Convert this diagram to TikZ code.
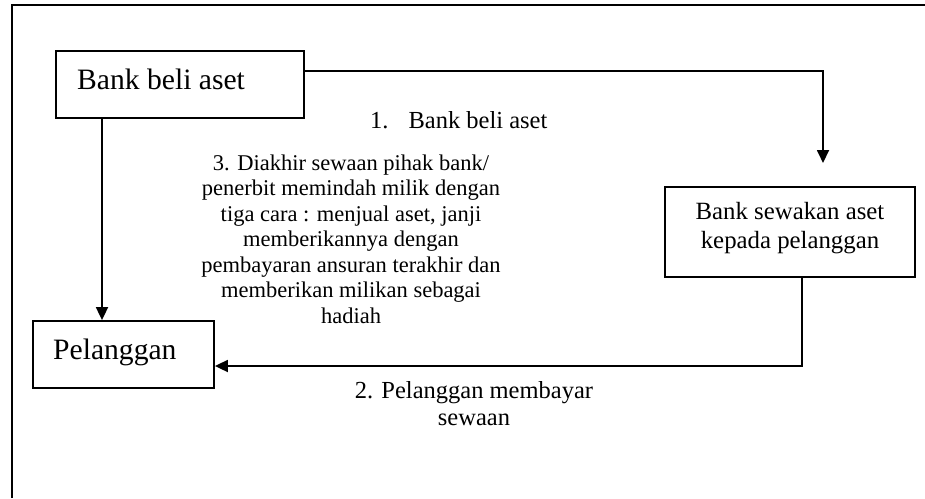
\documentclass[tikz,border=0pt]{standalone}
\usepackage{fontspec}
\setmainfont{Liberation Serif}
\usetikzlibrary{arrows.meta}
\begin{document}
\begin{tikzpicture}[x=1pt,y=-1pt,
  boxnode/.style={draw,line width=1.8pt,inner sep=0pt},
  bigtext/.style={inner sep=0pt,font=\fontsize{29.6}{35}\selectfont},
  midtext/.style={inner sep=0pt,align=center,font=\fontsize{24.8}{29}\selectfont},
  labeltext/.style={inner sep=0pt,align=center,font=\fontsize{24.5}{27}\selectfont},
  smalltext/.style={inner sep=0pt,align=center,font=\fontsize{22.5}{25.5}\selectfont},
  conn/.style={line width=1.8pt,-{Triangle[length=13pt,width=12pt]}}]
\useasboundingbox (0,0) rectangle (925,498);
% outer frame
\draw[line width=1.8pt] (12,498) -- (12,5) -- (925,5);
% boxes
\node[boxnode,minimum width=248pt,minimum height=67pt] (b1) at (180,84.5) {};
\node[boxnode,minimum width=250pt,minimum height=90pt] (b3) at (790,232) {};
\node[boxnode,minimum width=181pt,minimum height=67pt] (p) at (123.5,354.5) {};
% box texts (base anchor = baseline of the last line)
\node[bigtext,anchor=base west] (t1) at (77,89) {Bank beli aset};
\node[midtext,anchor=base] (t3) at (790,248) {Bank sewakan aset\\kepada pelanggan};
\node[bigtext,anchor=base west] (tp) at (53,359) {Pelanggan};
% labels
\node[labeltext,anchor=base west] (l1) at (370,128) {1.\hspace{20pt}Bank beli aset};
\node[smalltext,anchor=base] (l3) at (351,323) {3. Diakhir sewaan pihak bank/\\penerbit memindah milik dengan\\tiga cara : menjual aset, janji\\memberikannya dengan\\pembayaran ansuran terakhir dan\\memberikan milikan sebagai\\hadiah};
\node[labeltext,anchor=base] (l2) at (474,425) {2. Pelanggan membayar\\sewaan};
% connectors
\coordinate (a1) at (823,163);
\draw[conn] (b1.north east) ++(0,21) -| (a1);
\draw[conn] ([xshift=12pt]b3.south) |- ([yshift=-11.5pt]p.east);
\draw[conn] ([xshift=-78pt]b1.south) -- ([xshift=-78pt]b1.south |- p.north);
\end{tikzpicture}
\end{document}
